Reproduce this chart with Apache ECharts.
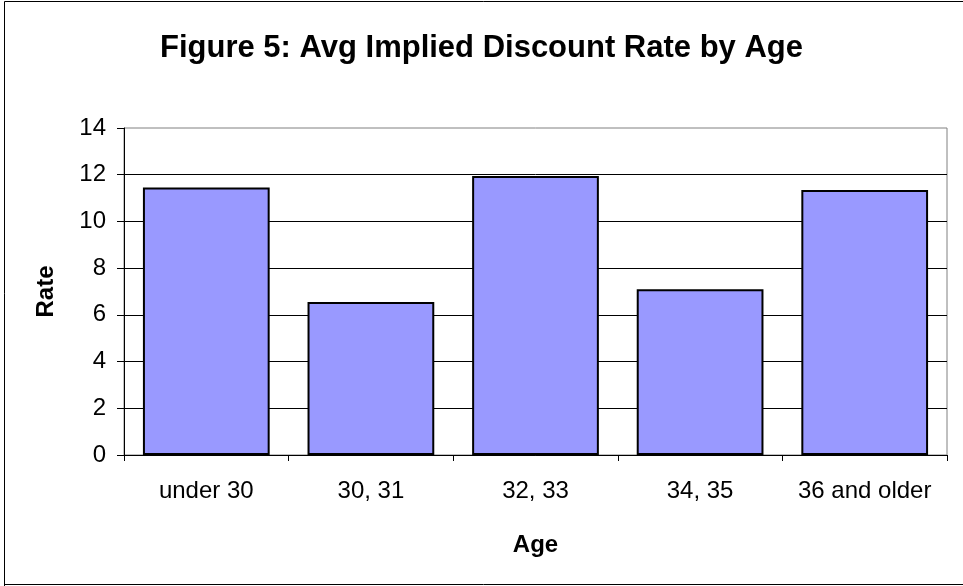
<!DOCTYPE html>
<html>
<head>
<meta charset="utf-8">
<script src="https://cdn.jsdelivr.net/npm/echarts@6/dist/echarts.min.js"></script>
<style>
  html, body { margin: 0; padding: 0; background: #ffffff; }
  #chart { width: 963px; height: 586px; }
</style>
</head>
<body>
<div id="chart"></div>
<script>
// Age groups and their average implied discount rate
const ageGroups = ['under 30', '30, 31', '32, 33', '34, 35', '36 and older'];
const avgRate = [11.45, 6.55, 11.95, 7.1, 11.35];
const rateTicks = { min: 0, max: 14, step: 2 };

const FONT = '"Liberation Sans", Arial, sans-serif';

const chart = echarts.init(document.getElementById('chart'), null, { renderer: 'canvas' });

chart.setOption({
  backgroundColor: '#ffffff',
  animation: false,
  title: {
    text: 'Figure 5: Avg Implied Discount Rate by Age',
    left: 'center',
    top: 28,
    textStyle: { fontFamily: FONT, fontWeight: 'bold', fontSize: 31, color: '#000000' }
  },
  graphic: [
    // outer frame of the chart
    {
      type: 'polyline',
      shape: { points: [[4.5, 586], [4.5, 1.5], [963, 1.5]] },
      style: { stroke: '#000000', lineWidth: 1, fill: null }
    },
    {
      type: 'line',
      shape: { x1: 4, y1: 584.5, x2: 963, y2: 584.5 },
      style: { stroke: '#000000', lineWidth: 1 }
    }
  ],
  grid: {
    left: 124,
    right: 16,
    top: 128,
    bottom: 131,
    show: true,
    borderColor: '#808080',
    borderWidth: 1
  },
  xAxis: {
    type: 'category',
    data: ageGroups,
    name: 'Age',
    nameLocation: 'middle',
    nameGap: 78,
    nameTextStyle: { fontFamily: FONT, fontWeight: 'bold', fontSize: 24, color: '#000000' },
    axisLine: { show: true, lineStyle: { color: '#000000', width: 1 } },
    axisTick: { show: true, length: 6, lineStyle: { color: '#000000' } },
    axisLabel: { interval: 0, fontFamily: FONT, fontSize: 24, color: '#000000', margin: 24 },
    splitLine: { show: false }
  },
  yAxis: {
    type: 'value',
    min: rateTicks.min,
    max: rateTicks.max,
    interval: rateTicks.step,
    name: 'Rate',
    nameLocation: 'middle',
    nameGap: 66,
    nameRotate: 90,
    nameTextStyle: { fontFamily: FONT, fontWeight: 'bold', fontSize: 24, color: '#000000' },
    axisLine: { show: true, lineStyle: { color: '#000000', width: 1 } },
    axisTick: { show: true, inside: false, length: 7, lineStyle: { color: '#000000' } },
    axisLabel: { fontFamily: FONT, fontSize: 24, color: '#000000', margin: 18 },
    splitLine: { show: true, showMaxLine: false, lineStyle: { color: '#000000', width: 1 } }
  },
  series: [{
    type: 'bar',
    data: avgRate,
    barCategoryGap: '23%',
    itemStyle: { color: '#9999FF', borderColor: '#000000', borderWidth: 2 }
  }]
});
</script>
</body>
</html>
